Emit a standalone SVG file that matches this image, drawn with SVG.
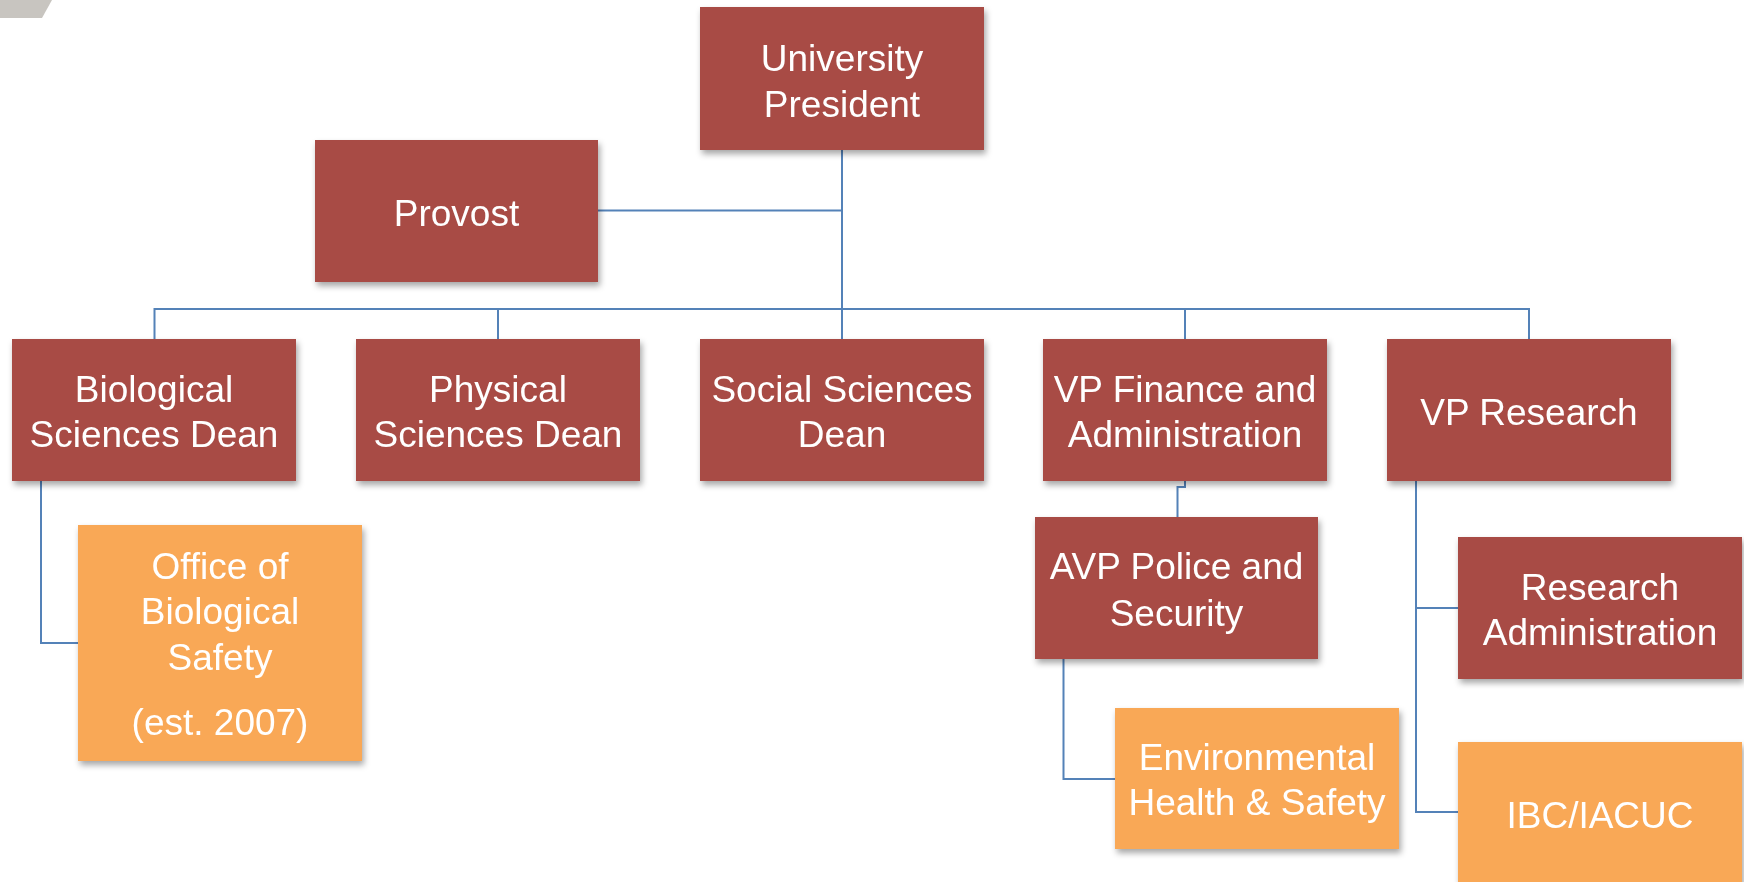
<svg xmlns="http://www.w3.org/2000/svg" width="1744" height="882" viewBox="0 0 1744 882">
<style>
.red{fill:#A84B45;}
.orange{fill:#F9A857;}
.box{filter:url(#sh);}
.t{font-family:"Liberation Sans",Arial,sans-serif;font-size:37px;fill:#FFFFFF;text-anchor:middle;}
.c{fill:none;stroke:#5482B8;stroke-width:2;}
</style>
<defs>
<filter id="sh" x="-10%" y="-10%" width="125%" height="130%">
<feDropShadow dx="2" dy="4" stdDeviation="3" flood-color="#000" flood-opacity="0.35"/>
</filter>
</defs>
<rect width="1744" height="882" fill="#FFFFFF"/>
<polygon points="0,0 52,0 42,18 0,18" fill="#C8C5C0"/>
<g id="connectors">
<path class="c" d="M842,150 V339"/>
<path class="c" d="M598,210.5 H842"/>
<path class="c" d="M154.5,339 V309 H1529 V339"/>
<path class="c" d="M498,309 V339"/>
<path class="c" d="M1185,309 V339"/>
<path class="c" d="M41,481 V643 H78"/>
<path class="c" d="M1185,481 V487 H1177.5 V517"/>
<path class="c" d="M1063.5,659 V779 H1115"/>
<path class="c" d="M1416,481 V812 H1458"/>
<path class="c" d="M1416,608 H1458"/>
</g>
<g id="president" class="box"><rect class="red" x="700" y="7" width="284" height="143"/>
<text class="t" x="842" y="71">University</text><text class="t" x="842" y="116.5">President</text></g>
<g id="provost" class="box"><rect class="red" x="315" y="140" width="283" height="142"/>
<text class="t" x="456.5" y="226">Provost</text></g>
<g id="bio-dean" class="box"><rect class="red" x="12" y="339" width="284" height="142"/>
<text class="t" x="154" y="401.5">Biological</text><text class="t" x="154" y="446.5">Sciences Dean</text></g>
<g id="phys-dean" class="box"><rect class="red" x="356" y="339" width="284" height="142"/>
<text class="t" x="498" y="401.5">Physical</text><text class="t" x="498" y="446.5">Sciences Dean</text></g>
<g id="soc-dean" class="box"><rect class="red" x="700" y="339" width="284" height="142"/>
<text class="t" x="842" y="401.5">Social Sciences</text><text class="t" x="842" y="446.5">Dean</text></g>
<g id="vp-finance" class="box"><rect class="red" x="1043" y="339" width="284" height="142"/>
<text class="t" x="1185" y="401.5">VP Finance and</text><text class="t" x="1185" y="446.5">Administration</text></g>
<g id="vp-research" class="box"><rect class="red" x="1387" y="339" width="284" height="142"/>
<text class="t" x="1529" y="424.5">VP Research</text></g>
<g id="office-bio-safety" class="box"><rect class="orange" x="78" y="525" width="284" height="236"/>
<text class="t" x="220" y="578.5">Office of</text><text class="t" x="220" y="624">Biological</text><text class="t" x="220" y="669.5">Safety</text><text class="t" x="220" y="734.5">(est. 2007)</text></g>
<g id="avp-police" class="box"><rect class="red" x="1035" y="517" width="283" height="142"/>
<text class="t" x="1176.5" y="579">AVP Police and</text><text class="t" x="1176.5" y="626">Security</text></g>
<g id="research-admin" class="box"><rect class="red" x="1458" y="537" width="284" height="142"/>
<text class="t" x="1600" y="599.5">Research</text><text class="t" x="1600" y="645">Administration</text></g>
<g id="ehs" class="box"><rect class="orange" x="1115" y="708" width="284" height="141"/>
<text class="t" x="1257" y="770">Environmental</text><text class="t" x="1257" y="815">Health &amp; Safety</text></g>
<g id="ibc-iacuc" class="box"><rect class="orange" x="1458" y="742" width="284" height="142"/>
<text class="t" x="1600" y="827.5">IBC/IACUC</text></g>
</svg>
